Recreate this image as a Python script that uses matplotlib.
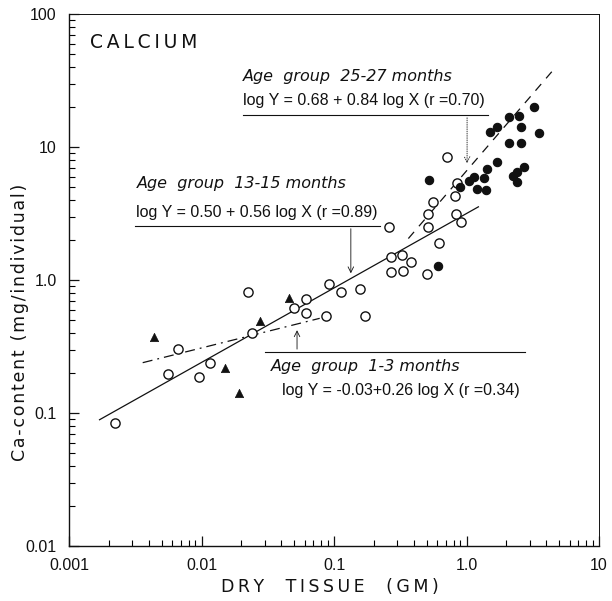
import numpy as np
import matplotlib
matplotlib.use('Agg')
import matplotlib.pyplot as plt
from matplotlib.ticker import LogLocator, FixedLocator, FixedFormatter, NullFormatter

# age group 13-15 months (open circles)
x_13_15 = [0.00222, 0.0056, 0.0066, 0.0096, 0.0115, 0.0224, 0.024, 0.050, 0.062, 0.062,
           0.091, 0.087, 0.113, 0.157, 0.170, 0.260, 0.27, 0.325, 0.38, 0.27,
           0.33, 0.50, 0.62, 0.71, 0.562, 0.515, 0.515, 0.844, 0.823, 0.83, 0.904]
y_13_15 = [0.0845, 0.196, 0.301, 0.185, 0.239, 0.808, 0.40, 0.62, 0.723, 0.567,
           0.933, 0.535, 0.817, 0.861, 0.535, 2.49, 1.48, 1.54, 1.36, 1.14,
           1.17, 1.10, 1.89, 8.35, 3.84, 3.13, 2.52, 5.39, 4.28, 3.13, 2.74]

# age group 25-27 months (filled circles)
x_25_27 = [0.607, 0.524, 0.893, 1.05, 1.146, 1.21, 1.40, 1.36, 1.44, 1.71, 1.50, 1.69,
           2.10, 2.50, 3.23, 2.57, 3.54, 2.10, 2.60, 2.23, 2.42, 2.72, 2.39]
y_25_27 = [1.28, 5.65, 4.98, 5.58, 5.98, 4.86, 4.75, 5.88, 6.84, 7.76, 13.0, 14.1,
           16.9, 17.1, 19.9, 14.2, 12.7, 10.8, 10.7, 6.08, 6.51, 7.03, 5.48]

# age group 1-3 months (triangles)
x_1_3 = [0.0044, 0.0151, 0.0192, 0.0277, 0.046]
y_1_3 = [0.371, 0.219, 0.141, 0.492, 0.728]

# regression lines, end points
fit_13_15_x = [0.0017, 1.23]
fit_13_15_y = [0.089, 3.55]
fit_25_27_x = [0.364, 4.4]
fit_25_27_y = [2.05, 36.8]
fit_1_3_x = [0.0036, 0.078]
fit_1_3_y = [0.239, 0.515]

xticks = [0.001, 0.01, 0.1, 1.0, 10]
xticklabels = ['0.001', '0.01', '0.1', '1.0', '10']
yticks = [0.01, 0.1, 1.0, 10, 100]
yticklabels = ['0.01', '0.1', '1.0', '10', '100']

plt.rcParams['font.family'] = ['DejaVu Sans']
narrow = ['Liberation Sans', 'DejaVu Sans']
TS = '\u2009'  # thin space
HS = '\u200a'  # hair space


def spaced(s, sep=TS):
    return sep.join(s)


fig = plt.figure(figsize=(6.12, 6.01), dpi=100)
ax = fig.add_axes([69 / 612, 1 - 546 / 601, 530 / 612, 532 / 601])
ax.set_xscale('log')
ax.set_yscale('log')
ax.set_xlim(0.001, 10)
ax.set_ylim(0.01, 100)

ink = '#111111'

ax.plot(fit_13_15_x, fit_13_15_y, '-', color=ink, lw=0.9)
ax.plot(fit_25_27_x, fit_25_27_y, color=ink, lw=0.9, dashes=(7, 6))
ax.plot(fit_1_3_x, fit_1_3_y, color=ink, lw=0.9, dashes=(8, 4, 1.5, 4))

ax.scatter(x_13_15, y_13_15, s=44, facecolors='white', edgecolors=ink, linewidths=1.0, zorder=3)
ax.scatter(x_25_27, y_25_27, s=36, facecolors=ink, edgecolors=ink, linewidths=0.8, zorder=3)
ax.scatter(x_1_3, y_1_3, s=36, marker='^', facecolors=ink, edgecolors=ink, linewidths=0.5, zorder=3)

# labels and leaders
ax.text(0.0396, 0.946, spaced('CALCIUM'), transform=ax.transAxes, fontsize=13.5,
        ha='left', va='center', color=ink)

ax.text(0.3283, 0.8816, 'Age  group  25-27 months', transform=ax.transAxes, fontsize=11.5,
        style='italic', ha='left', va='center', color=ink)
ax.text(0.3283, 0.8383, 'log Y = 0.68 + 0.84 log X (r =0.70)', transform=ax.transAxes,
        fontsize=11.5, family=narrow, ha='left', va='center', color=ink)
ax.plot([0.0206, 1.45], [17.4, 17.4], color=ink, lw=0.8)
ax.annotate('', xy=(1.01, 7.2), xytext=(1.01, 17.4),
            arrowprops=dict(arrowstyle='->', color=ink, lw=0.6, linestyle=':'))

ax.text(0.1283, 0.6805, 'Age  group  13-15 months', transform=ax.transAxes, fontsize=11.5,
        style='italic', ha='left', va='center', color=ink)
ax.text(0.1264, 0.6278, 'log Y = 0.50 + 0.56 log X (r =0.89)', transform=ax.transAxes,
        fontsize=11.5, family=narrow, ha='left', va='center', color=ink)
ax.plot([0.00315, 0.222], [2.55, 2.55], color=ink, lw=0.8)
ax.annotate('', xy=(0.134, 1.07), xytext=(0.134, 2.55),
            arrowprops=dict(arrowstyle='->', color=ink, lw=0.6))

ax.text(0.3811, 0.3383, 'Age  group  1-3 months', transform=ax.transAxes, fontsize=11.5,
        style='italic', ha='left', va='center', color=ink)
ax.text(0.4019, 0.2914, 'log Y = -0.03+0.26 log X (r =0.34)', transform=ax.transAxes,
        fontsize=11.5, family=narrow, ha='left', va='center', color=ink)
ax.plot([0.0301, 2.77], [0.288, 0.288], color=ink, lw=0.8)
ax.annotate('', xy=(0.0526, 0.44), xytext=(0.0526, 0.288),
            arrowprops=dict(arrowstyle='->', color=ink, lw=0.6))

# axes, ticks
ax.xaxis.set_major_locator(FixedLocator(xticks))
ax.xaxis.set_major_formatter(FixedFormatter(xticklabels))
ax.yaxis.set_major_locator(FixedLocator(yticks))
ax.yaxis.set_major_formatter(FixedFormatter(yticklabels))
ax.xaxis.set_minor_locator(LogLocator(base=10, subs=np.arange(2, 10)))
ax.yaxis.set_minor_locator(LogLocator(base=10, subs=np.arange(2, 10)))
ax.xaxis.set_minor_formatter(NullFormatter())
ax.yaxis.set_minor_formatter(NullFormatter())
ax.tick_params(which='major', direction='in', length=7, width=0.9, labelsize=11.5, colors=ink,
               top=False, right=False)
ax.tick_params(which='minor', direction='in', length=4, width=0.8, top=False, right=False)
ax.tick_params(axis='x', pad=9)
ax.tick_params(axis='y', pad=9)
for lab in ax.get_xticklabels() + ax.get_yticklabels():
    lab.set_family(narrow)
for sp in ax.spines.values():
    sp.set_linewidth(1.0)
    sp.set_color(ink)
ax.spines['right'].set_linewidth(0.7)
ax.spines['top'].set_linewidth(0.7)

fig.text(330 / 612, 1 - 587 / 601, TS.join('DRY  TISSUE  (GM)'),
         fontsize=12.5, ha='center', va='center', color=ink)
fig.text(20 / 612, 1 - 322 / 601, spaced('Ca-content (mg/individual)', HS), rotation=90,
         fontsize=12.5, ha='center', va='center', color=ink)

fig.savefig('out.png', dpi=100, facecolor='white')
